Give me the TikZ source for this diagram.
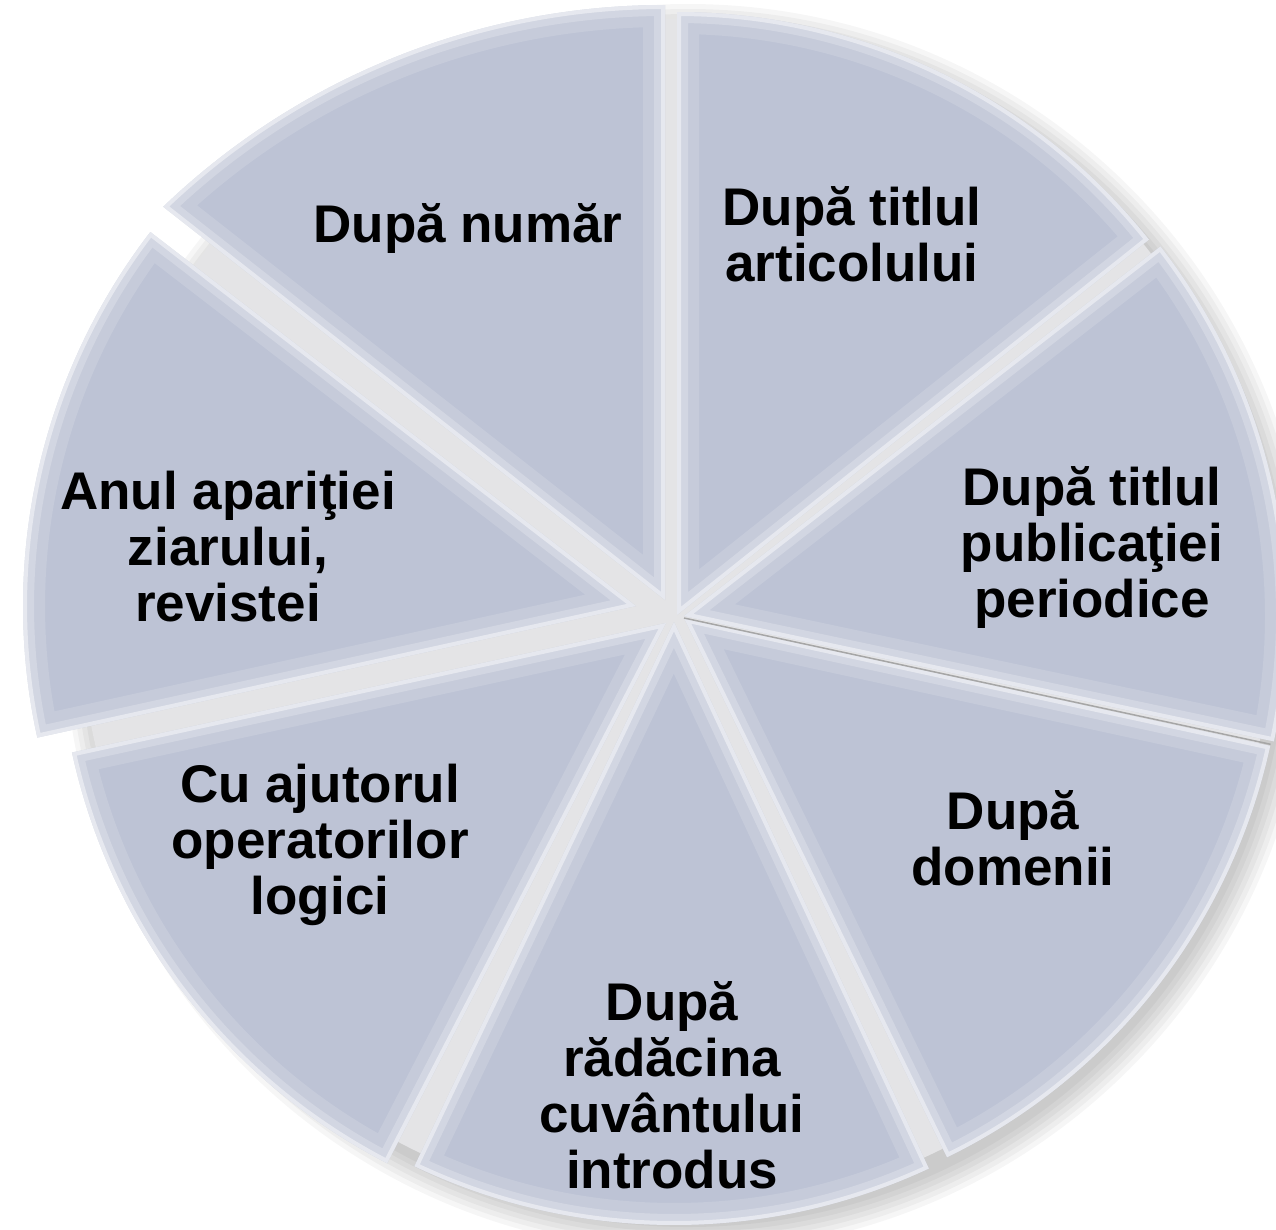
\documentclass[tikz,border=0pt]{standalone}
\usepackage{fontspec}
\setmainfont{Liberation Sans}
\newcommand\pieslice[1]{%
  \fill[slicefill] #1;
  \begin{scope}
    \clip #1;
    \draw[white,line width=44pt,opacity=.14,line join=miter] #1;
    \draw[white,line width=22pt,opacity=.22,line join=miter] #1;
    \draw[white,line width=8pt,opacity=.45,line join=miter] #1;
  \end{scope}}
\begin{document}
\begin{tikzpicture}[x=1pt,y=-1pt,
  lbl/.style={font=\fontsize{53}{56}\selectfont\bfseries,align=center,text=black,inner sep=0pt}]
\definecolor{slicefill}{RGB}{189,195,213}
\definecolor{gapgray}{RGB}{228,228,230}
\fill[white] (0,0) rectangle (1276,1229);
\useasboundingbox (0,0) rectangle (1276,1229);
% soft shadow
\foreach \r in {624,619,...,599} \fill[black,opacity=.035] (688,628) circle[radius=\r pt];
% base under the gaps
\fill[gapgray] (677,615) circle[radius=596pt];
% slices
\pieslice{(677,615) -- ++(38.5:603pt) arc[start angle=38.5,end angle=90,radius=603pt] -- cycle}
\pieslice{(684,616) -- ++(-12:603pt) arc[start angle=-12,end angle=37.8,radius=603pt] -- cycle}
\pieslice{(684,618) -- ++(-64:600pt) arc[start angle=-64,end angle=-12.3,radius=600pt] -- cycle}
\pieslice{(674,622) -- ++(-115.5:603pt) arc[start angle=-115.5,end angle=-65,radius=603pt] -- cycle}
\pieslice{(666,623) -- ++(192.3:608pt) arc[start angle=192.3,end angle=242.7,radius=608pt] -- cycle}
\pieslice{(636,606) -- ++(142.4:613pt) arc[start angle=142.4,end angle=192.4,radius=613pt] -- cycle}
\pieslice{(665,600) -- (665,5) arc[start angle=90,end angle=133.8,radius=725pt] -- cycle}
\draw[black!35,line width=1.5pt] (684,618) -- ++(-12.15:600pt);
% labels
\node[lbl] (numar) at (468,229) {După număr};
\node[lbl] (articol) at (852,234) {După titlul\\articolului};
\node[lbl] (public) at (1092,548) {După titlul\\publicaţiei\\periodice};
\node[lbl] (domenii) at (1013,838) {După\\domenii};
\node[lbl] (radacina) at (672,1085) {După\\rădăcina\\cuvântului\\introdus};
\node[lbl] (ajutor) at (320,845) {Cu ajutorul\\operatorilor\\logici};
\node[lbl] (anul) at (228,547) {Anul apariţiei\\ziarului,\\revistei};
\end{tikzpicture}
\end{document}
